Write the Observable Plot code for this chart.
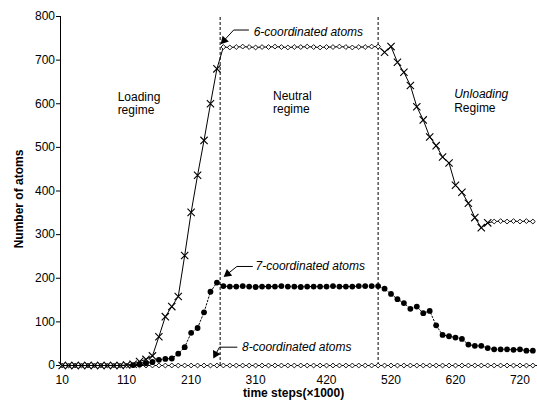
<!DOCTYPE html>
<html><head><meta charset="utf-8">
<script src="https://cdn.jsdelivr.net/npm/d3@7"></script>
<script src="https://cdn.jsdelivr.net/npm/@observablehq/plot@0.6"></script>
<style>
body{margin:0;background:#fff;}
#chart svg{display:block;}
</style>
</head><body><div id="chart"></div>
<script>
// time steps (x1000)
const steps = [10,20,30,40,50,60,70,80,90,100,110,120,130,140,150,160,170,180,190,200,210,220,230,240,250,
  260,270,280,290,300,310,320,330,340,350,360,370,380,390,400,410,420,430,440,450,460,470,480,490,500,
  510,520,530,540,550,560,570,580,590,600,610,620,630,640,650,660,670,680,690,700,710,720,730,740];

// 6-coordinated atoms
const six = [0,0,0,0,0,0,0,0,0,0,1,3,9,14,22,66,112,135,158,252,351,436,516,600,680,
  730,729,730,731,730,729,730,730,731,730,729,730,730,731,730,729,730,730,731,730,729,730,730,731,731,
  718,731,695,672,642,593,563,524,504,478,464,413,397,372,339,316,327,330,331,330,331,330,331,330];

// 7-coordinated atoms (no points before 120)
const seven = [null,null,null,null,null,null,null,null,null,null,null,1,3,5,8,13,15,16,27,42,75,86,122,169,190,
  182,181,181,182,181,180,181,181,181,182,181,181,180,181,181,181,181,182,181,181,181,182,182,182,182,
  176,164,152,143,130,135,120,125,92,70,67,64,61,48,45,45,40,37,37,37,36,37,34,34];

// 8-coordinated atoms
const eight = [0,0,0,0,0,0,0,0,0,0,0,0,0,0,0,0,0,0,0,0,0,0,0,0,0,
  0,0,0,0,0,0,0,0,0,0,0,0,0,0,0,0,0,0,0,0,0,0,0,0,0,
  0,0,0,0,0,0,0,0,0,0,0,0,0,0,0,0,0,0,0,0,0,0,0,0];

const xTicks = [10,110,210,310,420,520,620,720];
const yTicks = [0,100,200,300,400,500,600,700,800];
const regimeBounds = [255, 500];
const sixFlatRanges = [[260, 500], [680, 740]];

// callouts: text start, horizontal shaft, corner, arrow head (data units)
const callouts = [
  {label: "6-coordinated atoms", tx: 307, tv: 763, hx: 299, cx: 276, cv: 769, ax: 261, av: 745, angle: 223},
  {label: "7-coordinated atoms", tx: 310, tv: 227, hx: 305, cx: 281, cv: 227, ax: 266.5, av: 210, angle: 232},
  {label: "8-coordinated atoms", tx: 289, tv: 42, hx: 281, cx: 254, cv: 42, ax: 248, av: 26, angle: 208}
];

const xDomain = [7.4, 747.2];

const rows = (vals) => steps.map((t, i) => ({t, v: vals[i]})).filter(d => d.v != null);
const r6 = rows(six), r7 = rows(seven), r8 = rows(eight);
const isFlat = d => sixFlatRanges.some(([a, b]) => d.t >= a && d.t <= b);

const shafts = callouts.flatMap((c, k) => [
  {k, x: c.hx, y: c.cv}, {k, x: c.cx, y: c.cv}, {k, x: c.ax, y: c.av}
]);

const font = "'Liberation Sans', Arial, Helvetica, sans-serif";

const chart = Plot.plot({
  width: 537,
  height: 404,
  marginLeft: 60,
  marginRight: 0,
  marginTop: 16,
  marginBottom: 39,
  style: {fontFamily: font, fontSize: "12px", color: "#000", background: "#fff"},
  x: {domain: xDomain, ticks: xTicks, tickSize: 0, tickPadding: 10, label: null, tickFormat: d => String(d)},
  y: {domain: [0, 800], ticks: yTicks, tickSize: 4, tickPadding: 1.5, label: null},
  marks: [
    Plot.ruleX(regimeBounds, {y1: 0, y2: 800, stroke: "#000", strokeWidth: 1, strokeDasharray: "3,2"}),
    Plot.ruleY([0], {stroke: "#000"}),
    Plot.ruleX([xDomain[0]], {y1: 0, y2: 800, stroke: "#000"}),
    // 8-coordinated
    Plot.line(r8, {x: "t", y: "v", stroke: "#000", strokeWidth: 1}),
    Plot.dot(r8, {x: "t", y: "v", symbol: "diamond2", r: 2.2, stroke: "#000", fill: "#fff", strokeWidth: 0.9}),
    // 7-coordinated
    Plot.line(r7, {x: "t", y: "v", stroke: "#000", strokeWidth: 1, strokeDasharray: "1.5,2"}),
    Plot.dot(r7, {x: "t", y: "v", r: 2.9, fill: "#000", stroke: "none"}),
    // 6-coordinated
    Plot.line(r6, {x: "t", y: "v", stroke: "#000", strokeWidth: 1}),
    Plot.dot(r6.filter(isFlat), {x: "t", y: "v", symbol: "diamond2", r: 2.2, stroke: "#000", fill: "#fff", strokeWidth: 0.9}),
    Plot.dot(r6.filter(d => !isFlat(d)), {x: "t", y: "v", symbol: "times", r: 3.4, stroke: "#000", strokeWidth: 1.1}),
    // callouts
    Plot.line(shafts, {x: "x", y: "y", z: "k", stroke: "#000", strokeWidth: 1}),
    Plot.dot(callouts, {x: "ax", y: "av", symbol: "triangle", r: 3.2, fill: "#000", stroke: "none", rotate: "angle"}),
    Plot.text(callouts, {x: "tx", y: "tv", text: "label", textAnchor: "start", fontStyle: "italic", fontSize: 12}),
    // regime labels
    Plot.text(["Loading\nregime"], {x: 96, y: 600, textAnchor: "start", lineHeight: 1.05, fontSize: 12}),
    Plot.text(["Neutral\nregime"], {x: 337, y: 603, textAnchor: "start", lineHeight: 1.05, fontSize: 12}),
    Plot.text(["Unloading"], {x: 618, y: 621, textAnchor: "start", fontStyle: "italic", fontSize: 12}),
    Plot.text(["Regime"], {x: 618, y: 589, textAnchor: "start", fontSize: 12}),
    // axis titles
    Plot.text(["Number of atoms"], {frameAnchor: "left", textAnchor: "middle", lineAnchor: "middle", dx: -41, dy: 8, rotate: -90, fontWeight: "bold", fontSize: 12}),
    Plot.text(["time steps(×1000)"], {x: 369, frameAnchor: "bottom", textAnchor: "middle", lineAnchor: "middle", dy: 28, fontWeight: "bold", fontSize: 12})
  ]
});
document.getElementById("chart").appendChild(chart);
</script>
</body></html>
